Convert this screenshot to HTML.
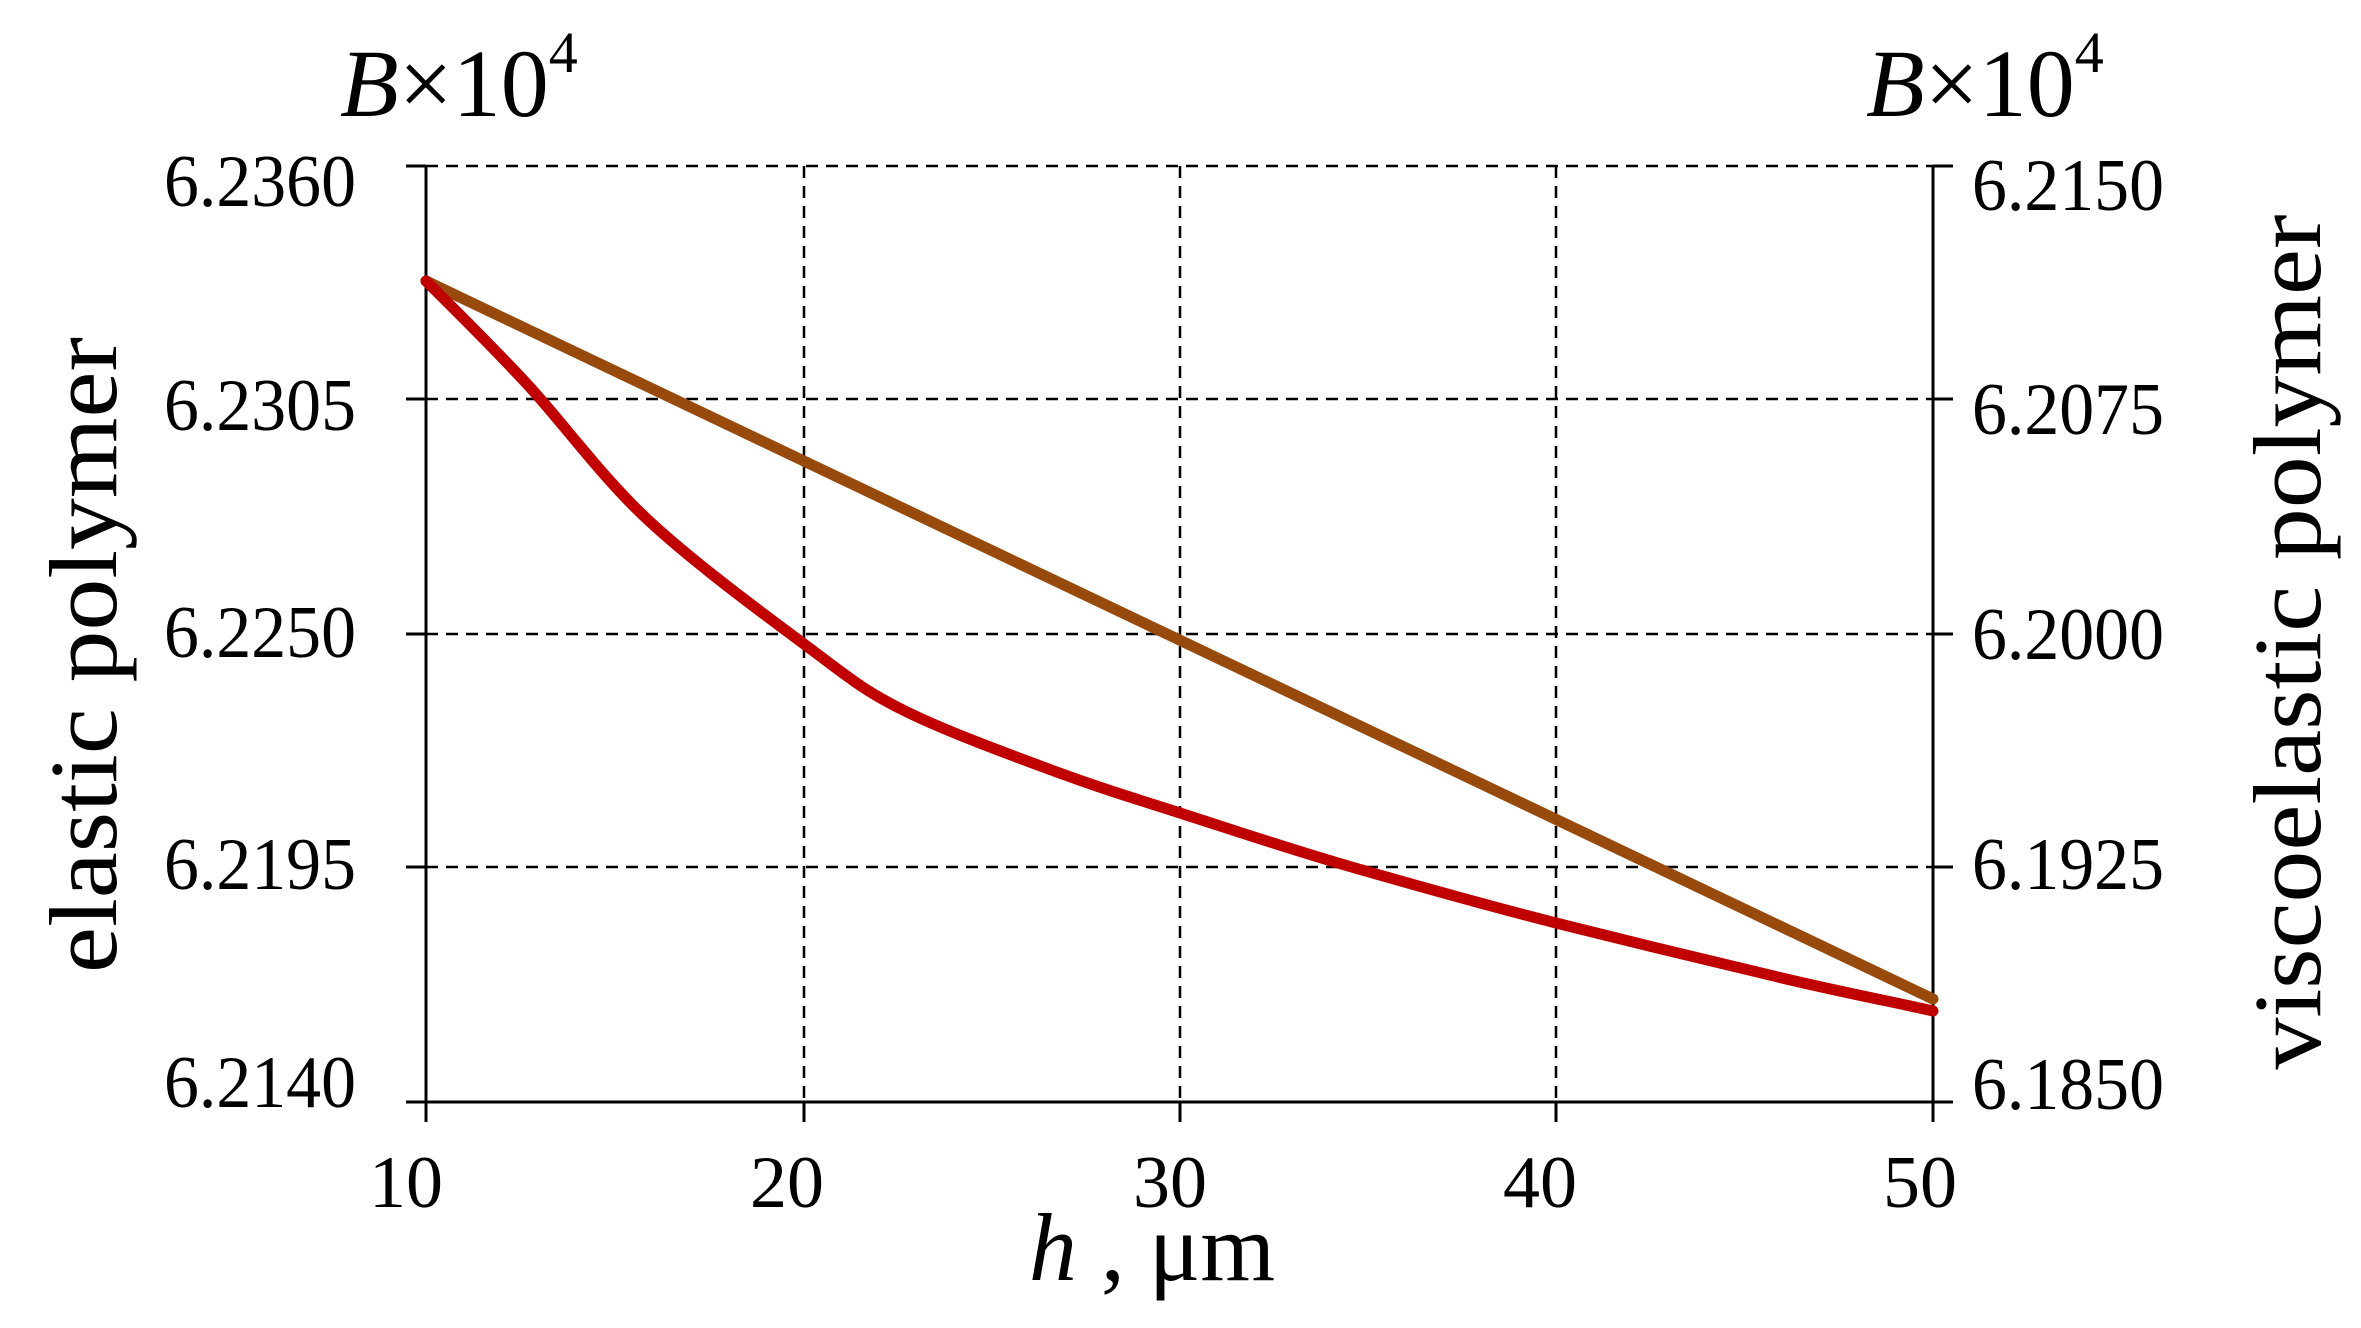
<!DOCTYPE html>
<html><head><meta charset="utf-8"><style>body{margin:0;background:#fff}svg{display:block}</style></head>
<body>
<svg width="2361" height="1328" viewBox="0 0 2361 1328" xmlns="http://www.w3.org/2000/svg" font-family="Liberation Serif, serif">
<g stroke="#000" stroke-width="2.5" stroke-dasharray="12,8" fill="none">
<line x1="426" y1="166" x2="1933" y2="166"/>
<line x1="426" y1="399" x2="1933" y2="399"/>
<line x1="426" y1="634" x2="1933" y2="634"/>
<line x1="426" y1="867" x2="1933" y2="867"/>
<line x1="426" y1="1102" x2="1933" y2="1102"/>
<line x1="804" y1="166" x2="804" y2="1102"/>
<line x1="1180" y1="166" x2="1180" y2="1102"/>
<line x1="1556" y1="166" x2="1556" y2="1102"/>
</g>
<g stroke="#000" stroke-width="3" fill="none">
<line x1="426" y1="166" x2="426" y2="1122"/>
<line x1="1933" y1="166" x2="1933" y2="1122"/>
<line x1="426" y1="1102" x2="1933" y2="1102"/>
<line x1="406" y1="166" x2="426" y2="166"/><line x1="406" y1="399" x2="426" y2="399"/><line x1="406" y1="634" x2="426" y2="634"/><line x1="406" y1="867" x2="426" y2="867"/><line x1="406" y1="1102" x2="426" y2="1102"/>
<line x1="1933" y1="166" x2="1953" y2="166"/><line x1="1933" y1="399" x2="1953" y2="399"/><line x1="1933" y1="634" x2="1953" y2="634"/><line x1="1933" y1="867" x2="1953" y2="867"/><line x1="1933" y1="1102" x2="1953" y2="1102"/>
<line x1="804" y1="1102" x2="804" y2="1122"/><line x1="1180" y1="1102" x2="1180" y2="1122"/><line x1="1556" y1="1102" x2="1556" y2="1122"/>
</g>
<line x1="426" y1="281" x2="1933" y2="999" stroke="#984a0c" stroke-width="11" stroke-linecap="round"/>
<path d="M426,281 C443,298 490,344 527,384 C564,424 601,476 647,519 C693,562 761,612 804,644 C847,676 861,689 903,710 C945,731 1008,754 1054,771 C1100,788 1130,797 1180,813 C1230,829 1292,850 1355,868 C1418,886 1485,905 1556,923 C1627,941 1719,963 1782,978 C1845,993 1908,1005 1933,1011" stroke="#c00000" stroke-width="11" fill="none" stroke-linecap="round"/>
<g font-size="74" fill="#000">
<text x="356" y="206" text-anchor="end" textLength="192" lengthAdjust="spacingAndGlyphs">6.2360</text>
<text x="356" y="430" text-anchor="end" textLength="192" lengthAdjust="spacingAndGlyphs">6.2305</text>
<text x="356" y="657" text-anchor="end" textLength="192" lengthAdjust="spacingAndGlyphs">6.2250</text>
<text x="356" y="889" text-anchor="end" textLength="192" lengthAdjust="spacingAndGlyphs">6.2195</text>
<text x="356" y="1107" text-anchor="end" textLength="192" lengthAdjust="spacingAndGlyphs">6.2140</text>
<text x="1972" y="210" textLength="192" lengthAdjust="spacingAndGlyphs">6.2150</text>
<text x="1972" y="434" textLength="192" lengthAdjust="spacingAndGlyphs">6.2075</text>
<text x="1972" y="659" textLength="192" lengthAdjust="spacingAndGlyphs">6.2000</text>
<text x="1972" y="889" textLength="192" lengthAdjust="spacingAndGlyphs">6.1925</text>
<text x="1972" y="1109" textLength="192" lengthAdjust="spacingAndGlyphs">6.1850</text>
<text x="406" y="1207" text-anchor="middle">10</text>
<text x="787" y="1207" text-anchor="middle">20</text>
<text x="1170" y="1207" text-anchor="middle">30</text>
<text x="1540" y="1207" text-anchor="middle">40</text>
<text x="1920" y="1207" text-anchor="middle">50</text>
</g>
<g font-size="96" fill="#000">
<text x="340" y="116"><tspan font-style="italic">B</tspan>×10<tspan font-size="58" dy="-44">4</tspan></text>
<text x="1866" y="116"><tspan font-style="italic">B</tspan>×10<tspan font-size="58" dy="-44">4</tspan></text>
<text x="1152" y="1280" text-anchor="middle"><tspan font-style="italic">h</tspan> , μm</text>
<text transform="translate(116,655) rotate(-90)" text-anchor="middle" textLength="636" lengthAdjust="spacingAndGlyphs">elastic polymer</text>
<text transform="translate(2320,642) rotate(-90)" text-anchor="middle" textLength="855" lengthAdjust="spacingAndGlyphs">viscoelastic polymer</text>
</g>
</svg>
</body></html>
